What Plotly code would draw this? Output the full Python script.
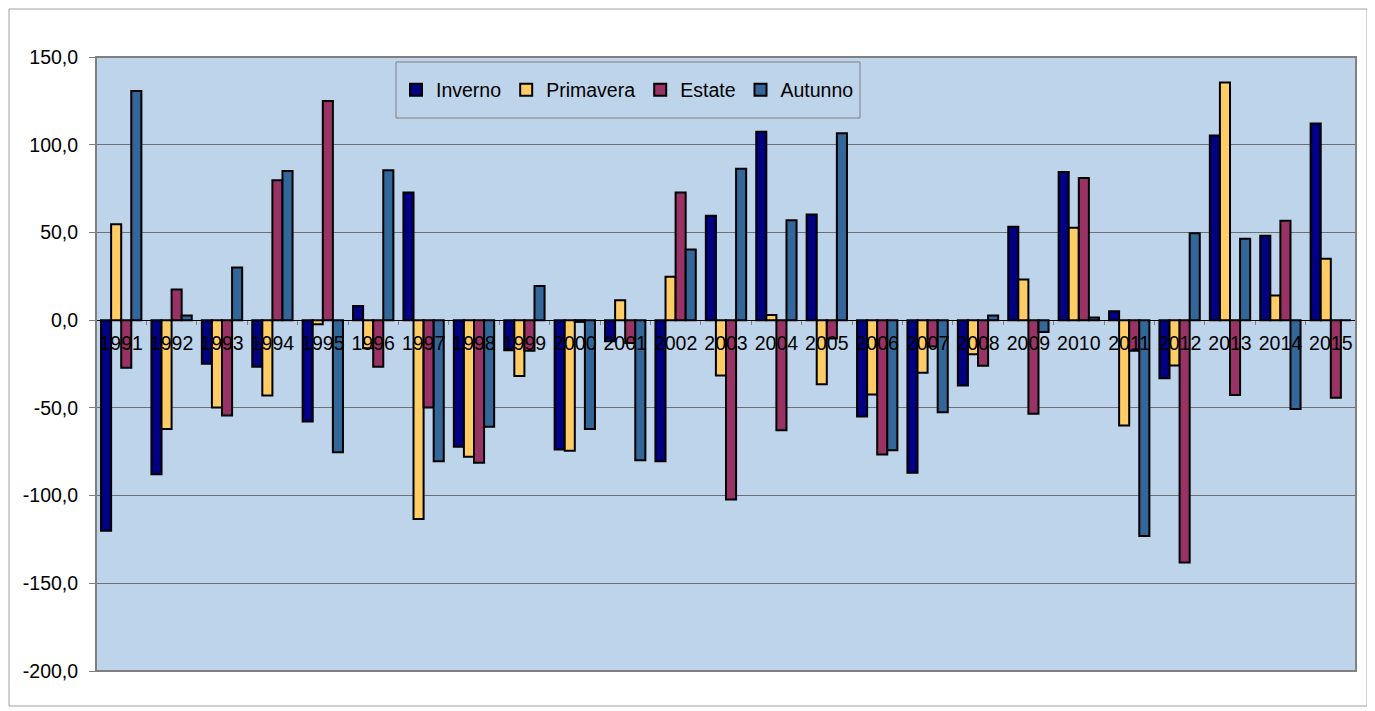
import plotly.graph_objects as go

years = [str(y) for y in range(1991, 2016)]

inverno = [-120.1, -87.8, -24.9, -26.6, -57.8, 8.0, 72.8, -72.2, -17.1, -73.7,
           -12.0, -80.4, 59.5, 107.4, 60.2, -54.9, -87.0, -37.3, 53.2, 84.4,
           5.1, -33.1, 105.3, 48.1, 112.1]
primavera = [54.7, -62.1, -49.8, -43.0, -2.3, -16.0, -113.3, -77.9, -31.9, -74.5,
             11.4, 24.7, -31.5, 2.9, -36.5, -42.4, -30.0, -19.4, 23.2, 52.6,
             -60.1, -25.8, 135.5, 14.1, 35.0]
estate = [-27.2, 17.5, -54.4, 79.8, 124.9, -26.6, -49.8, -81.3, -17.5, -1.0,
          -13.0, 72.8, -102.2, -62.7, -10.5, -76.6, -15.0, -26.0, -53.4, 81.0,
          -17.5, -138.2, -42.6, 56.6, -44.3]
autunno = [130.6, 2.7, 30.0, 85.0, -75.3, 85.5, -80.4, -60.8, 19.4, -62.1,
           -79.8, 40.3, 86.3, 57.0, 106.6, -74.1, -52.5, 2.7, -6.7, 1.5,
           -123.1, 49.6, 46.4, -50.6, 0.0]

y_ticks = [150, 100, 50, 0, -50, -100, -150, -200]
y_tick_labels = ["150,0", "100,0", "50,0", "0,0", "-50,0", "-100,0", "-150,0", "-200,0"]

series = [("Inverno", inverno, "#000080"),
          ("Primavera", primavera, "#FFCC66"),
          ("Estate", estate, "#993366"),
          ("Autunno", autunno, "#336699")]

fig = go.Figure()
for name, vals, col in series:
    fig.add_trace(go.Bar(x=years, y=vals, name=name,
                         marker=dict(color=col, line=dict(color="black", width=2))))

y0, y1 = -200, 150
zero_pos = (0 - y0) / (y1 - y0)

# page offset of 8px (body margin) -> plot area at x 96..1356, y 57..671
W, H = 1367, 703
L, T, PW, PH = 88, 49, 1260, 614
fs = 19.5

fig.update_layout(
    width=W, height=H,
    margin=dict(l=L, r=W - L - PW, t=T, b=H - T - PH),
    paper_bgcolor="white",
    plot_bgcolor="#BDD4EA",
    font=dict(family="Liberation Sans, Arial, sans-serif", size=fs, color="black"),
    barmode="group", bargap=0.2, bargroupgap=0,
    showlegend=True,
    legend=dict(orientation="h", x=(396 - 96) / PW, y=(671 - 90) / PH,
                xanchor="left", yanchor="middle",
                bgcolor="rgba(0,0,0,0)", borderwidth=0,
                font=dict(size=fs), itemwidth=30, tracegroupgap=0),
    xaxis=dict(type="category", anchor="free", position=zero_pos,
               showline=True, linecolor="black", linewidth=1,
               ticks="outside", tickson="boundaries", ticklen=4, tickcolor="#808080",
               showgrid=False, tickangle=0, tickfont=dict(size=fs),
               ticklabelstandoff=5),
    yaxis=dict(range=[y0, y1], tickvals=y_ticks, ticktext=y_tick_labels,
               showgrid=True, gridcolor="#707070", gridwidth=1,
               zeroline=True, zerolinecolor="black", zerolinewidth=1,
               showline=True, linecolor="#808080", linewidth=1,
               ticks="outside", ticklen=6, tickcolor="#808080",
               tickfont=dict(size=fs), ticklabelstandoff=7),
    shapes=[
        dict(type="rect", xref="paper", yref="paper", x0=0, x1=1, y0=0, y1=1,
             line=dict(color="#808080", width=2), layer="above"),
        dict(type="rect", xref="paper", yref="paper",
             x0=(396 - 96) / PW, x1=(860 - 96) / PW,
             y0=(671 - 118) / PH, y1=(671 - 62) / PH,
             line=dict(color="#808080", width=1), layer="above"),
        dict(type="rect", xref="paper", yref="paper",
             x0=(9 - 96) / PW, x1=(1367 - 96) / PW,
             y0=(671 - 706) / PH, y1=(671 - 9) / PH,
             line=dict(color="#A0A0A0", width=1), layer="below"),
    ],
)

fig.write_html("out.html")
